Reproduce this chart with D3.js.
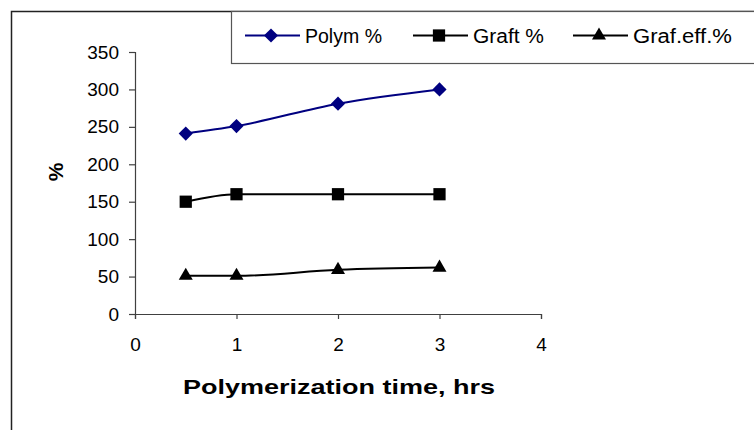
<!DOCTYPE html>
<head>
  <meta charset="utf-8">
  <script src="https://d3js.org/d3.v7.min.js"></script>
  <style>
    body {
      margin: 0;
      background: #fff;
      font-family: Arial, "Liberation Sans", sans-serif;
    }
    .axis path, .axis line {
      stroke: #404040;
      stroke-width: 1.2;
    }
    .axis text {
      font-family: Arial, "Liberation Sans", sans-serif;
      font-size: 19px;
      fill: #000;
    }
  </style>
</head>

<body>
  <div id="chart"></div>

  <script>
    // data
    var hours = [0.5, 1, 2, 3];
    var polym = [241, 251, 281, 300];
    var graft = [150, 160, 160, 160];
    var grafEff = [51, 51, 59, 62];
    var seriesNames = ["Polym %", "Graft %", "Graf.eff.%"];
    var xTicks = [0, 1, 2, 3, 4];
    var yTicks = [0, 50, 100, 150, 200, 250, 300, 350];

    var width = 754,
        height = 430;

    var svg = d3.select("#chart").append("svg")
      .attr("width", width)
      .attr("height", height);

    // outer chart frame (runs off the right/bottom edge)
    svg.append("rect")
      .attr("x", 11.5).attr("y", 11.5)
      .attr("width", 800).attr("height", 500)
      .attr("fill", "none")
      .attr("stroke", "#222")
      .attr("stroke-width", 1.5);

    var x = d3.scaleLinear().domain([0, 4]).range([135, 541]);
    var y = d3.scaleLinear().domain([0, 350]).range([314, 52]);

    svg.append("g")
      .attr("class", "axis")
      .attr("transform", "translate(0," + y(0) + ")")
      .call(d3.axisBottom(x).tickValues(xTicks).tickFormat(d3.format("d"))
        .tickSize(5).tickSizeOuter(5).tickPadding(19));

    svg.append("g")
      .attr("class", "axis")
      .attr("transform", "translate(" + x(0) + ",0)")
      .call(d3.axisLeft(y).tickValues(yTicks).tickSize(6).tickSizeOuter(6).tickPadding(10));

    // axis titles
    svg.append("text")
      .attr("x", 339).attr("y", 394)
      .attr("text-anchor", "middle")
      .attr("textLength", 312)
      .attr("lengthAdjust", "spacingAndGlyphs")
      .style("font-size", "21px")
      .style("font-weight", "bold")
      .text("Polymerization time, hrs");

    svg.append("text")
      .attr("transform", "translate(63,172) rotate(-90)")
      .attr("text-anchor", "middle")
      .style("font-size", "21px")
      .style("font-weight", "bold")
      .text("%");

    var series = [
      {name: seriesNames[0], values: polym, color: "#000080", symbol: d3.symbolSquare, size: 100, rot: 45, tl: 77},
      {name: seriesNames[1], values: graft, color: "#000", symbol: d3.symbolSquare, size: 150, rot: 0, tl: 71},
      {name: seriesNames[2], values: grafEff, color: "#000", symbol: d3.symbolTriangle, size: 85, rot: 0, tl: 99}
    ];

    var line = d3.line()
      .x(function(d, i) { return x(hours[i]); })
      .y(function(d) { return y(d); })
      .curve(d3.curveMonotoneX);

    series.forEach(function(s) {
      svg.append("path")
        .attr("d", line(s.values))
        .attr("fill", "none")
        .attr("stroke", s.color)
        .attr("stroke-width", 2);

      svg.selectAll(null)
          .data(s.values)
        .enter().append("path")
          .attr("d", d3.symbol().type(s.symbol).size(s.size))
          .attr("transform", function(d, i) {
            return "translate(" + x(hours[i]) + "," + y(d) + ") rotate(" + s.rot + ")";
          })
          .attr("fill", s.color);
    });

    // legend box
    svg.append("rect")
      .attr("x", 231.5).attr("y", 11.5)
      .attr("width", 600).attr("height", 52)
      .attr("fill", "#fff")
      .attr("stroke", "#555")
      .attr("stroke-width", 1.2);

    var legendX = [245, 413, 573];
    series.forEach(function(s, i) {
      var g = svg.append("g").attr("transform", "translate(" + legendX[i] + ",35.5)");
      g.append("line")
        .attr("x1", 0).attr("x2", 55)
        .attr("stroke", s.color).attr("stroke-width", 2);
      g.append("path")
        .attr("d", d3.symbol().type(s.symbol).size(s.size))
        .attr("transform", "translate(26,0) rotate(" + s.rot + ")")
        .attr("fill", s.color);
      g.append("text")
        .attr("x", 60).attr("dy", "0.36em")
        .attr("textLength", s.tl)
        .attr("lengthAdjust", "spacingAndGlyphs")
        .style("font-size", "19.5px")
        .text(s.name);
    });
  </script>
</body>
